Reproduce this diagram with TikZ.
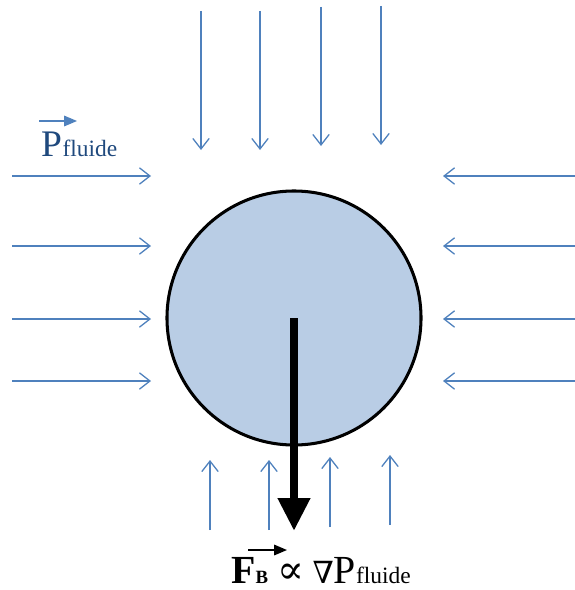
\documentclass[tikz,border=0pt]{standalone}
\usepackage{fontspec}
\setmainfont{Liberation Serif}
\newfontfamily\symfont{DejaVu Serif}
\usetikzlibrary{arrows.meta, positioning}
\definecolor{FlowBlue}{RGB}{79,129,189}
\definecolor{BallFill}{RGB}{185,205,229}
\definecolor{LabelBlue}{RGB}{31,73,125}

\begin{document}
\begin{tikzpicture}[x=0.03cm, y=-0.03cm,
  flow/.style={-{Straight Barb[length=9pt,width=14pt]}, FlowBlue, line width=1.1pt},
  vec/.style={-{Triangle[length=11pt,width=9pt]}, line width=1.3pt},
  ball/.style={circle, draw=black, fill=BallFill, line width=2.6pt,
    minimum size=7.62cm, inner sep=0pt},
  force/.style={-{Triangle[length=28pt,width=26pt]}, black, line width=7.5pt},
  lbl/.style={anchor=base west, inner sep=0pt, text depth=0pt}
]
\useasboundingbox (0,0) rectangle (574,590);

% Sphere in the fluid
\node[ball] (ball) at (294,318) {};

% Pressure from above
\foreach \x/\ys/\ye [count=\i] in {201/11/150, 260/11/150, 321/7/146, 381/6/145} {
  \coordinate (top\i) at (\x,\ys);
  \coordinate (topend\i) at (\x,\ye);
  \draw[flow] (top\i) -- (topend\i);
}

% Pressure from below
\foreach \x/\ys/\ye [count=\i] in {210/530/460, 269/530/460, 330/527/457, 390/525/455} {
  \coordinate (bot\i) at (\x,\ys);
  \coordinate (botend\i) at (\x,\ye);
  \draw[flow] (bot\i) -- (botend\i);
}

% Pressure from the sides
\foreach \y [count=\i] in {176, 246, 319, 381} {
  \coordinate (left\i) at (12,\y);
  \coordinate (leftend\i) at (151,\y);
  \draw[flow] (left\i) -- (leftend\i);
  \coordinate (right\i) at (576,\y);
  \coordinate (rightend\i) at (443,\y);
  \draw[flow] (right\i) -- (rightend\i);
}

% Buoyancy force
\coordinate (fbtip) at (294,531);
\draw[force] (ball.center) -- (fbtip);

% Label: pressure of the fluid
\node[lbl, text=LabelBlue, font=\fontsize{32}{32}\selectfont] (pP) at (41,156) {P};
\node[lbl, text=LabelBlue, font=\fontsize{20}{20}\selectfont] (pSub) at (pP.base east) {fluide};
\coordinate (pv1) at (39,121);
\coordinate (pv2) at (77,121);
\draw[vec, FlowBlue] (pv1) -- (pv2);

% Label: force relation
\node[lbl, font=\fontsize{34}{34}\selectfont] (fF) at (231,583)
  {\textbf{F}{\fontsize{16}{16}\selectfont\textbf{B}}\hspace{8pt}{\symfont\fontsize{34}{34}\selectfont ∝}\hspace{7pt}{\symfont\fontsize{26}{26}\selectfont ∇}P{\fontsize{20}{20}\selectfont fluide}};
\coordinate (fv1) at (248,550);
\coordinate (fv2) at (287,550);
\draw[vec, black] (fv1) -- (fv2);
\end{tikzpicture}
\end{document}
